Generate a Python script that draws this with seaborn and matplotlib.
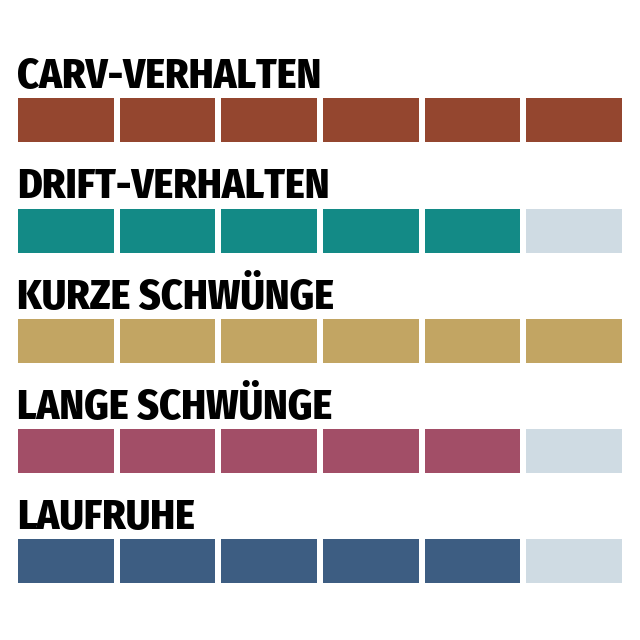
import numpy as np
import matplotlib
matplotlib.use("Agg")
import matplotlib.pyplot as plt
import seaborn as sns
from matplotlib.colors import ListedColormap

# region Daten
kategorien = ["CARV-VERHALTEN", "DRIFT-VERHALTEN", "KURZE SCHWÜNGE", "LANGE SCHWÜNGE", "LAUFRUHE"]
bewertung = [6, 5, 6, 5, 5]
max_bewertung = 6
farben = ["#94462f", "#138a86", "#c2a563", "#a24e67", "#3d5d82"]
leer_farbe = "#cfdbe3"
# endregion

# region Figur
sns.set_theme(style="white")
plt.rcParams['font.family'] = ['Fira Sans Condensed', 'DejaVu Sans']
W, H = 640, 640
fig = plt.figure(figsize=(6.4, 6.4), dpi=100)
fig.patch.set_facecolor("white")

gap_pt = 6 * 72 / 100  # 6px weisse Luecke
row_top = [95, 205.5, 315.5, 425.5, 536]

for i, (name, wert, farbe) in enumerate(zip(kategorien, bewertung, farben)):
    top = row_top[i]
    ax = fig.add_axes([15 / W, 1 - (top + 50) / H, 610 / W, 50 / H])
    zeile = np.array([[1 if k < wert else 0 for k in range(max_bewertung)]])
    sns.heatmap(zeile, ax=ax, cmap=ListedColormap([leer_farbe, farbe]), vmin=0, vmax=1,
                cbar=False, linewidths=gap_pt, linecolor="white",
                xticklabels=False, yticklabels=False)
    ax.set_xlabel("")
    ax.set_ylabel("")
    fig.text(17 / W, 1 - (top - 7) / H, name, fontsize=30, fontweight=800,
             color="black", ha="left", va="baseline")
# endregion

fig.savefig("out.png", dpi=100, facecolor="white")
